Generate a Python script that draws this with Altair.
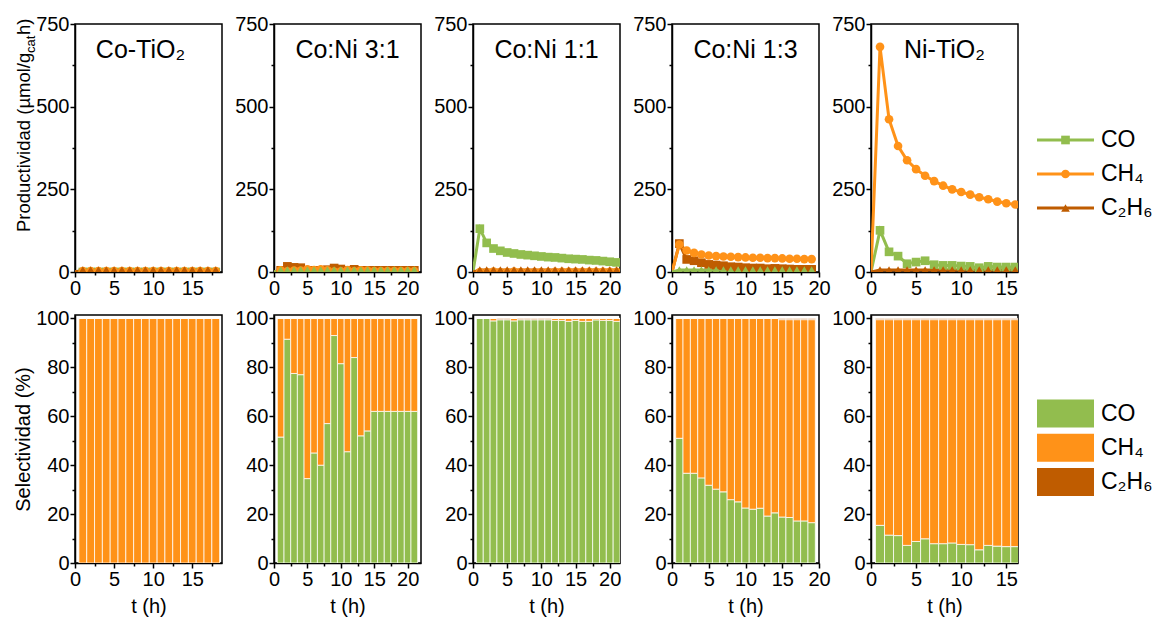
import altair as alt
import pandas as pd

FONT = "Liberation Sans"

SERIES = ["CO", "CH4", "C2H6"]
SERIES_LABELS = ["CO", "CH₄", "C₂H₆"]
SERIES_COLORS = ["#92BD4E", "#FF9218", "#BF5C00"]
SERIES_SHAPES = ["square", "circle", "triangle-up"]

PANEL_TITLES = ["Co-TiO₂", "Co:Ni 3:1", "Co:Ni 1:1", "Co:Ni 1:3", "Ni-TiO₂"]
X_MAX = [18.8, 22, 21.5, 20, 16.3]

# ---------------- Productivity (µmol/g_cat h) ----------------
PROD_T = [
    [0, 1, 2, 3, 4, 5, 6, 7, 8, 9, 10, 11, 12, 13, 14, 15, 16, 17, 18],
    [0, 1, 2, 3, 4, 5, 6, 7, 8, 9, 10, 11, 12, 13, 14, 15, 16, 17, 18, 19, 20, 21],
    [0, 1, 2, 3, 4, 5, 6, 7, 8, 9, 10, 11, 12, 13, 14, 15, 16, 17, 18, 19, 20, 21],
    [0, 1, 2, 3, 4, 5, 6, 7, 8, 9, 10, 11, 12, 13, 14, 15, 16, 17, 18, 19],
    [0, 1, 2, 3, 4, 5, 6, 7, 8, 9, 10, 11, 12, 13, 14, 15, 16],
]
PROD_CO = [
    [0, 0, 0, 0, 0, 0, 0, 0, 0, 0, 0, 0, 0, 0, 0, 0, 0, 0, 0],
    [0, 5, 17, 14, 13, 4, 5, 5, 7, 12, 9, 5, 8, 5, 5, 5, 5, 5, 5, 5, 5, 5],
    [0, 131, 88, 71, 64, 59, 56, 53, 51, 49, 47, 45, 44, 42, 40, 39, 38, 36, 35, 33, 31, 29],
    [0, 86, 38, 34, 28, 23, 21, 19, 16, 15, 13, 12, 12, 10, 11, 10, 9, 8, 8, 8],
    [0, 126, 61, 48, 25, 30, 34, 22, 20, 20, 18, 17, 13, 17, 15, 15, 15],
]
PROD_CH4 = [
    [0, 3, 3, 3, 3, 3, 3, 3, 3, 3, 3, 3, 3, 3, 3, 3, 3, 3, 3],
    [0, 5, 2, 4, 4, 8, 6, 8, 5, 1, 2, 6, 2, 5, 4, 3, 3, 3, 3, 3, 3, 3],
    [0, 0, 0, 1, 0, 0, 1, 0, 0, 0, 0, 0, 0.5, 0.5, 0.5, 0.5, 0.5, 0.5, 0.5, 0.5, 0.5, 0.5],
    [0, 83, 65, 58, 53, 50, 48, 47, 46, 45, 44, 43, 43, 42, 42, 41, 40, 40, 39, 39],
    [0, 681, 462, 381, 338, 311, 291, 275, 261, 250, 242, 234, 226, 220, 213, 208, 204],
]
PROD_C2H6 = [
    [0, 6, 6, 6, 6, 6, 6, 6, 6, 6, 6, 6, 6, 6, 6, 6, 6, 6, 6],
    [0, 6, 6, 6, 6, 6, 6, 6, 6, 6, 6, 6, 6, 6, 6, 6, 6, 6, 6, 6, 6, 6],
    [0, 6, 6, 6, 6, 6, 6, 6, 6, 6, 6, 6, 6, 6, 6, 6, 6, 6, 6, 6, 6, 6],
    [0, 6, 6, 6, 6, 6, 6, 6, 6, 6, 6, 6, 6, 6, 6, 6, 6, 6, 6, 6],
    [0, 6, 6, 6, 6, 6, 6, 6, 6, 6, 6, 6, 6, 6, 6, 6, 6],
]
# colour actually used for each series in each top panel (as drawn in the figure)
TOP_COLOR_KEY = [
    {"CO": "CO", "CH4": "CH4", "C2H6": "C2H6"},
    {"CO": "C2H6", "CH4": "CH4", "C2H6": "CO"},
    {"CO": "CO", "CH4": "CH4", "C2H6": "C2H6"},
    {"CO": "C2H6", "CH4": "CH4", "C2H6": "CO"},
    {"CO": "CO", "CH4": "CH4", "C2H6": "C2H6"},
]

# ---------------- Selectivity (%) ----------------
SEL_T = [
    [1, 2, 3, 4, 5, 6, 7, 8, 9, 10, 11, 12, 13, 14, 15, 16, 17, 18],
    [1, 2, 3, 4, 5, 6, 7, 8, 9, 10, 11, 12, 13, 14, 15, 16, 17, 18, 19, 20, 21],
    [1, 2, 3, 4, 5, 6, 7, 8, 9, 10, 11, 12, 13, 14, 15, 16, 17, 18, 19, 20, 21],
    [1, 2, 3, 4, 5, 6, 7, 8, 9, 10, 11, 12, 13, 14, 15, 16, 17, 18, 19],
    [1, 2, 3, 4, 5, 6, 7, 8, 9, 10, 11, 12, 13, 14, 15, 16],
]
SEL_CO = [
    [0, 0, 0, 0, 0, 0, 0, 0, 0, 0, 0, 0, 0, 0, 0, 0, 0, 0],
    [51.5, 91.5, 77.5, 77, 34.5, 45, 40, 57, 93, 81.5, 45.5, 84, 52, 54, 62, 62, 62, 62, 62, 62, 62],
    [100, 100, 99, 99.5, 99.5, 99, 99.5, 99.5, 99.5, 99.5, 99.5, 99.2, 99.2, 98.8, 99.2, 98.8, 98.8, 99.4, 99.2, 99.2, 98.8],
    [51, 36.7, 36.7, 34.8, 31.8, 30.2, 29.1, 25.9, 25, 22.5, 22, 22.4, 19.2, 20.5, 18.8, 18.6, 17.2, 17.2, 16.5],
    [15.4, 11.4, 11.2, 7.2, 8.8, 9.9, 7.9, 7.9, 8.2, 7.6, 7.5, 5.4, 7.2, 6.9, 6.7, 6.7],
]
SEL_CH4 = [
    [100, 100, 100, 100, 100, 100, 100, 100, 100, 100, 100, 100, 100, 100, 100, 100, 100, 100],
    [48.5, 8.5, 22.5, 23, 65.5, 55, 60, 43, 7, 18.5, 54.5, 16, 48, 46, 38, 38, 38, 38, 38, 38, 38],
    [0, 0, 1, 0, 0, 1, 0, 0, 0, 0, 0, 0.8, 0.8, 1.2, 0.8, 1.2, 1.2, 0.6, 0.8, 0.8, 1.2],
    [49, 63.3, 63.3, 65.2, 68.2, 69.8, 70.9, 74.1, 75, 77.5, 78, 77.6, 80.8, 79.5, 80.7, 80.9, 82.3, 82.3, 83],
    [84.1, 88.1, 88.3, 92.3, 90.7, 89.6, 91.6, 91.6, 91.3, 91.9, 92, 94.1, 92.3, 92.6, 92.8, 92.8],
]
SEL_C2H6 = [
    [0, 0, 0, 0, 0, 0, 0, 0, 0, 0, 0, 0, 0, 0, 0, 0, 0, 0],
    [0, 0, 0, 0, 0, 0, 0, 0, 0, 0, 0, 0, 0, 0, 0, 0, 0, 0, 0, 0, 0],
    [0, 0, 0, 0.5, 0.5, 0, 0.5, 0.5, 0.5, 0.5, 0.5, 0, 0, 0, 0, 0, 0, 0, 0, 0, 0],
    [0, 0, 0, 0, 0, 0, 0, 0, 0, 0, 0, 0, 0, 0, 0.5, 0.5, 0.5, 0.5, 0.5],
    [0.5, 0.5, 0.5, 0.5, 0.5, 0.5, 0.5, 0.5, 0.5, 0.5, 0.5, 0.5, 0.5, 0.5, 0.5, 0.5],
]

# ---------------- layout / style ----------------
W, H = 147, 248
TITLE_DX = [-8, 0, 0, 0, 0]
color_scale = alt.Scale(domain=SERIES, range=SERIES_COLORS)
shape_scale = alt.Scale(domain=SERIES, range=SERIES_SHAPES)


def ticks_every(maxv, step):
    vals, v = [], 0.0
    while v <= maxv + 1e-9:
        vals.append(v)
        v += step
    return vals


def x_axis(xmax, title):
    kw = dict(
        values=ticks_every(xmax, 2.5),
        labelExpr="datum.value % 5 === 0 ? datum.label : ''",
        tickSize={"condition": {"test": "datum.value % 5 === 0", "value": 5}, "value": 3},
        labelFlush=False, labelOverlap=False, labelPadding=1, titlePadding=7,
    )
    return alt.Axis(title=title, **kw)


def y_axis(maxv, minor, major, title):
    return alt.Axis(
        title=title,
        values=ticks_every(maxv, minor),
        labelExpr="datum.value %% %d === 0 ? datum.label : ''" % major,
        tickSize={"condition": {"test": "datum.value %% %d === 0" % major, "value": 5}, "value": 3},
        labelFlush=False, labelOverlap=False, labelPadding=1, titlePadding=2,
    )


def top_panel(i):
    rows = []
    for s, arr in zip(SERIES, [PROD_CO[i], PROD_CH4[i], PROD_C2H6[i]]):
        for t, v in zip(PROD_T[i], arr):
            rows.append({"t": t, "value": v, "series": s, "ckey": TOP_COLOR_KEY[i][s]})
    df = pd.DataFrame(rows)
    x = alt.X("t:Q", scale=alt.Scale(domain=[0, X_MAX[i]], nice=False, zero=False), axis=x_axis(X_MAX[i], None))
    y = alt.Y("value:Q", scale=alt.Scale(domain=[0, 750], nice=False), axis=y_axis(750, 125, 250, None))
    color = alt.Color("ckey:N", scale=color_scale, legend=None)
    base = alt.Chart(df)
    line = base.mark_line(strokeWidth=3, clip=True).encode(x=x, y=y, color=color, detail="series:N")
    pts = base.transform_filter("datum.t > 0").mark_point(filled=True, size=75, opacity=1, clip=True).encode(
        x=x, y=y, color=color,
        shape=alt.Shape("series:N", scale=shape_scale, legend=None))
    title = alt.Chart(pd.DataFrame({"label": [PANEL_TITLES[i]]})).mark_text(
        fontSize=25, font=FONT, align="center", baseline="alphabetic", color="black"
    ).encode(x=alt.value(W / 2 + TITLE_DX[i]), y=alt.value(34), text="label:N")
    layers = [line, pts, title]
    if i == 0:
        yt = [("Productividad (µmol/g", 18.5, -45, 208), ("cat", 13, -40, 29), ("h)", 18.5, -45, 11)]
        for txt, fs, xx, yy in yt:
            layers.append(alt.Chart(pd.DataFrame({"label": [txt]})).mark_text(
                fontSize=fs, font=FONT, angle=270, align="left", baseline="alphabetic", color="black"
            ).encode(x=alt.value(xx), y=alt.value(yy), text="label:N"))
    return alt.layer(*layers).properties(width=W, height=H)


def bottom_panel(i):
    rows = []
    for k, t in enumerate(SEL_T[i]):
        acc = 0.0
        for s, arr in zip(SERIES, [SEL_CO[i], SEL_CH4[i], SEL_C2H6[i]]):
            v = arr[k]
            rows.append({"t": t, "series": s, "y0": acc, "y1": acc + v})
            acc += v
    df = pd.DataFrame(rows)
    bars = alt.Chart(df).transform_calculate(
        xa="datum.t - 0.5", xb="datum.t + 0.5"
    ).mark_rect(stroke="white", strokeWidth=1, strokeOpacity=0.75, clip=True).encode(
        x=alt.X("xa:Q", scale=alt.Scale(domain=[0, X_MAX[i]], nice=False, zero=False),
                axis=x_axis(X_MAX[i], "t (h)")),
        x2="xb:Q",
        y=alt.Y("y0:Q", scale=alt.Scale(domain=[0, 101.4], nice=False),
                axis=y_axis(100, 10, 20, "Selectividad (%)" if i == 0 else None)),
        y2="y1:Q",
        color=alt.Color("series:N", scale=color_scale, legend=None),
    )
    return bars.properties(width=W, height=H)


legend_df = pd.DataFrame({"series": SERIES, "label": SERIES_LABELS})


def legend_top():
    y = alt.Y("series:N", scale=alt.Scale(type="point", domain=SERIES, range=[116, 184], padding=0), axis=None)
    color = alt.Color("series:N", scale=color_scale, legend=None)
    base = alt.Chart(legend_df)
    ln = base.mark_rule(strokeWidth=3).encode(x=alt.value(-33), x2=alt.value(24), y=y, color=color)
    pt = base.mark_point(filled=True, size=75, opacity=1).encode(
        x=alt.value(-4.5), y=y, color=color, shape=alt.Shape("series:N", scale=shape_scale, legend=None))
    tx = base.mark_text(align="left", baseline="middle", fontSize=23, font=FONT, color="black").encode(
        x=alt.value(31), y=y, text="label:N")
    return alt.layer(ln, pt, tx).properties(width=80, height=H, view=alt.ViewBackground(stroke="transparent"))


def legend_bottom():
    y = alt.Y("series:N", scale=alt.Scale(type="point", domain=SERIES, range=[98.5, 167], padding=0), axis=None)
    color = alt.Color("series:N", scale=color_scale, legend=None)
    base = alt.Chart(legend_df)
    rc = base.mark_rule(strokeWidth=28).encode(x=alt.value(-33), x2=alt.value(24), y=y, color=color)
    tx = base.mark_text(align="left", baseline="middle", fontSize=23, font=FONT, color="black").encode(
        x=alt.value(31), y=y, text="label:N")
    return alt.layer(rc, tx).properties(width=80, height=H, view=alt.ViewBackground(stroke="transparent"))


charts = [top_panel(i) for i in range(5)] + [legend_top()] + [bottom_panel(i) for i in range(5)] + [legend_bottom()]

chart = alt.concat(
    *charts, columns=6, spacing={"row": 43, "column": 52}, bounds="flush"
).properties(
    padding={"left": 12, "top": 13, "right": 2, "bottom": 2}
).configure(
    font=FONT, background="white"
).configure_axis(
    labelFont=FONT, titleFont=FONT, labelFontSize=20, titleFontSize=20,
    labelColor="black", titleColor="black", titleFontWeight="normal",
    domainColor="black", domainWidth=1.5, tickColor="black", tickWidth=1.5, grid=False,
).configure_view(
    stroke="black", strokeWidth=1.5
)

chart.save("out.html", embed_options={"renderer": "svg", "actions": False})
